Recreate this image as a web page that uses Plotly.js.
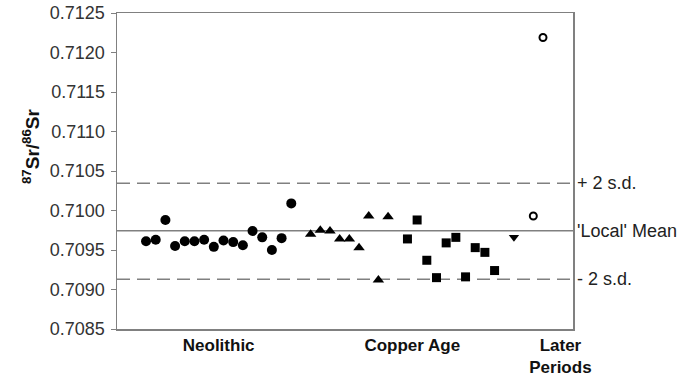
<!DOCTYPE html>
<html>
<head>
<meta charset="utf-8">
<script src="https://cdn.plot.ly/plotly-3.0.1.min.js"></script>
<style>html,body{margin:0;padding:0;background:#fff;}#chart{width:700px;height:380px;}</style>
</head>
<body>
<div id="chart"></div>
<script>
// Sample positions (sequence index) and 87Sr/86Sr values
const neolithicX = [3,4,5,6,7,8,9,10,11,12,13,14,15,16,17,18];
const neolithicY = [0.70961,0.70963,0.70988,0.70955,0.70961,0.70961,0.70963,0.70954,0.70962,0.70960,0.70956,0.70974,0.70966,0.70950,0.70965,0.71009];
const copperTriX = [20,21,22,23,24,25,26,27,28];
const copperTriY = [0.70970,0.70975,0.70974,0.70964,0.70964,0.70953,0.70993,0.70912,0.70992];
const copperSqX = [30,31,32,33,34,35,36,37,38,39];
const copperSqY = [0.70964,0.70988,0.70937,0.70915,0.70959,0.70966,0.70916,0.70953,0.70947,0.70924];
const laterDownX = [41];
const laterDownY = [0.70966];
const laterOpenX = [43,44];
const laterOpenY = [0.70993,0.71219];

const categoryPos = [10.5, 30.5, 45.8];
const categoryLabels = ['Neolithic', 'Copper Age', 'Later<br>Periods'];

const refValues = [0.710344, 0.709744, 0.709129];
const refLabels = ['+ 2 s.d.', "'Local' Mean", '- 2 s.d.'];
const refDash = ['dash', 'solid', 'dash'];

const yTicks = [0.7085,0.7090,0.7095,0.7100,0.7105,0.7110,0.7115,0.7120,0.7125];

function pts(x, y, symbol, size, open) {
  return {
    x: x, y: y, type: 'scatter', mode: 'markers', showlegend: false,
    marker: open
      ? {symbol: symbol, size: size, color: '#fff', line: {color: '#000', width: 2}}
      : {symbol: symbol, size: size, color: '#000', line: {width: 0}},
    hoverinfo: 'skip'
  };
}

const traces = [
  pts(neolithicX, neolithicY, 'circle', 10, false),
  pts(copperTriX, copperTriY, 'triangle-up', 10, false),
  pts(copperSqX, copperSqY, 'square', 9, false),
  pts(laterDownX, laterDownY, 'triangle-down', 9, false),
  pts(laterOpenX, laterOpenY, 'circle', 7, true)
];

const shapes = refValues.map((v, i) => ({
  type: 'line', xref: 'paper', yref: 'y', x0: 0, x1: 1, y0: v, y1: v,
  line: {color: '#808080', width: 1.5, dash: refDash[i] === 'dash' ? '13px,7px' : 'solid'},
  layer: 'below'
}));

const annotations = refValues.map((v, i) => ({
  xref: 'paper', yref: 'y', x: 1, y: v, xanchor: 'left', yanchor: 'middle',
  xshift: 2, text: refLabels[i], showarrow: false,
  font: {family: 'Liberation Sans, Arial, sans-serif', size: 18, color: '#222'}
}));
annotations.push({
  xref: 'paper', yref: 'paper', x: -0.19, y: 0.58, xanchor: 'center', yanchor: 'middle',
  textangle: -90, showarrow: false,
  text: '<b><sup>87</sup>Sr/<sup>86</sup>Sr</b>',
  font: {family: 'Liberation Sans, Arial, sans-serif', size: 19, color: '#111'}
});

const layout = {
  width: 700, height: 380,
  margin: {l: 117, r: 127, t: 13, b: 51},
  paper_bgcolor: '#fff', plot_bgcolor: '#fff',
  showlegend: false,
  xaxis: {
    range: [0, 47.1], showgrid: false, zeroline: false,
    showline: true, linecolor: '#808080', linewidth: 1.5, mirror: true,
    tickmode: 'array', tickvals: categoryPos, ticktext: categoryLabels.map(t => '<b>' + t + '</b>'),
    ticks: '', ticklabelstandoff: 0,
    tickfont: {family: 'Liberation Sans, Arial, sans-serif', size: 17, color: '#111'}
  },
  yaxis: {
    range: [0.7085, 0.7125], showgrid: false, zeroline: false,
    showline: true, linecolor: '#808080', linewidth: 1.5, mirror: true,
    tickmode: 'array', tickvals: yTicks, ticktext: yTicks.map(v => v.toFixed(4)),
    ticks: 'outside', ticklen: 5, tickcolor: '#808080', tickwidth: 1,
    ticklabelstandoff: 2,
    tickfont: {family: 'Liberation Sans, Arial, sans-serif', size: 18, color: '#333'}
  },
  shapes: shapes,
  annotations: annotations
};

Plotly.newPlot('chart', traces, layout, {staticPlot: true, displayModeBar: false});
</script>
</body>
</html>
